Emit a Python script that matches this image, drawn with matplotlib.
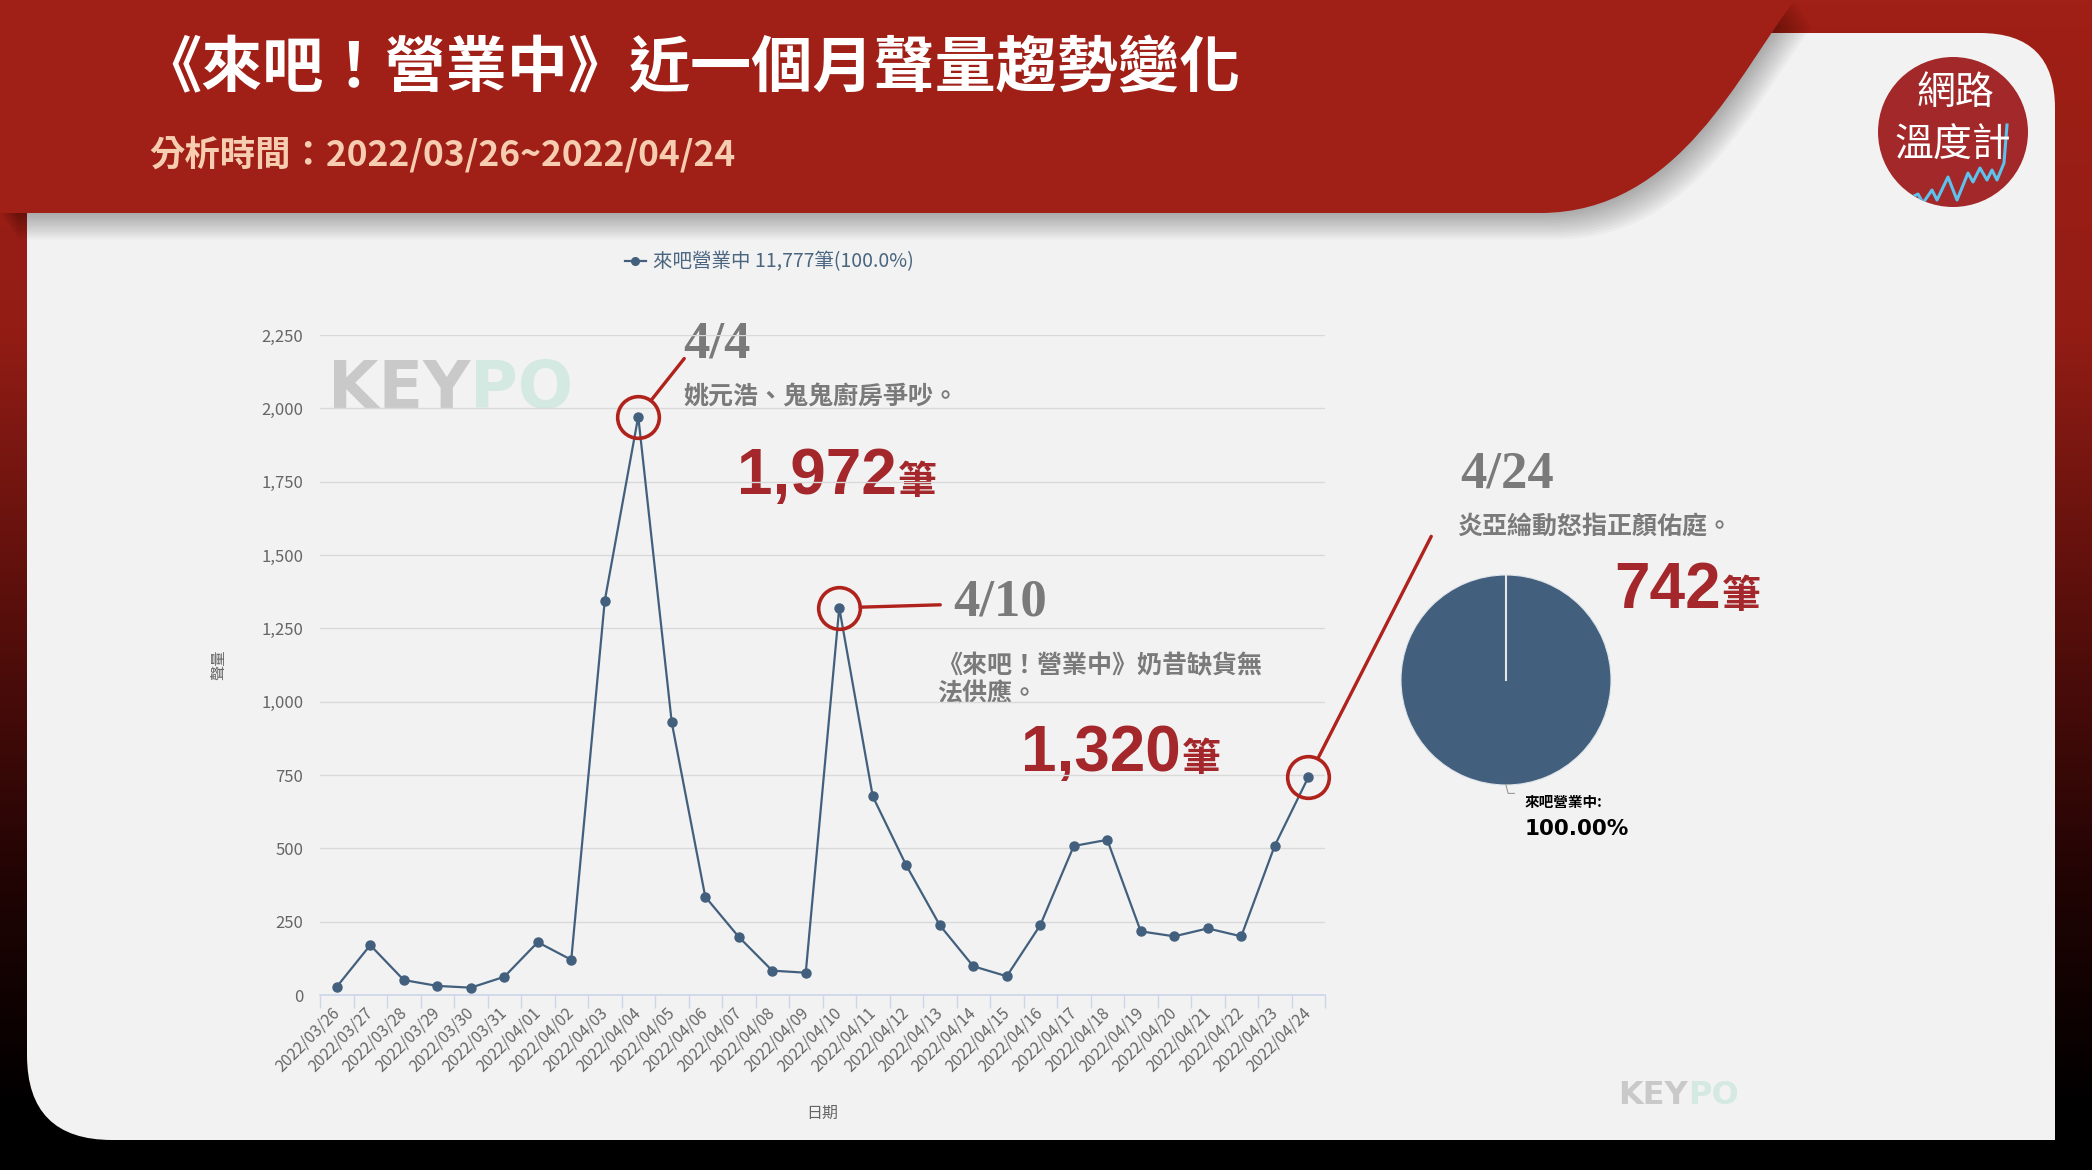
import numpy as np
import matplotlib
matplotlib.use("Agg")
import matplotlib.pyplot as plt
from matplotlib.path import Path
from matplotlib.patches import PathPatch, Circle
from matplotlib.colors import LinearSegmentedColormap
from matplotlib.lines import Line2D
from matplotlib.ticker import FuncFormatter

plt.rcParams['font.family'] = ['Noto Sans CJK TC', 'DejaVu Sans']

# ---- data ----
dates = ['2022/03/26', '2022/03/27', '2022/03/28', '2022/03/29', '2022/03/30',
         '2022/03/31', '2022/04/01', '2022/04/02', '2022/04/03', '2022/04/04',
         '2022/04/05', '2022/04/06', '2022/04/07', '2022/04/08', '2022/04/09',
         '2022/04/10', '2022/04/11', '2022/04/12', '2022/04/13', '2022/04/14',
         '2022/04/15', '2022/04/16', '2022/04/17', '2022/04/18', '2022/04/19',
         '2022/04/20', '2022/04/21', '2022/04/22', '2022/04/23', '2022/04/24']
volume = [28, 170, 51, 31, 25, 62, 180, 120, 1344, 1972,
          929, 335, 198, 83, 76, 1320, 677, 442, 238, 98,
          64, 238, 508, 529, 217, 200, 227, 200, 509, 742]
series_name = '來吧營業中'
total = 11777
y_ticks = list(range(0, 2251, 250))

peak_idx = [9, 15, 29]
peak_day = ['4/4', '4/10', '4/24']
peak_note = ['姚元浩、鬼鬼廚房爭吵。',
             '《來吧！營業中》奶昔缺貨無\n法供應。',
             '炎亞綸動怒指正顏佑庭。']

pie_values = [100.0]
pie_label = '來吧營業中:'

title = '《來吧！營業中》近一個月聲量趨勢變化'
subtitle = '分析時間：2022/03/26~2022/04/24'

# ---- styling ----
W, H = 2092, 1170
red = '#a01f16'
line_c = '#42607d'
ring_c = '#b0221c'
num_c = '#a3272b'
note_c = '#7a7a7a'
panel_c = '#f2f2f2'

fig = plt.figure(figsize=(W / 100, H / 100), dpi=100)


def fig_rect(l, t, r, b):
    return [l / W, 1 - b / H, (r - l) / W, (b - t) / H]


# background layer in pixel coordinates (y down)
bg = fig.add_axes([0, 0, 1, 1])
bg.set_xlim(0, W)
bg.set_ylim(H, 0)
bg.axis('off')

grad = LinearSegmentedColormap.from_list('bgr', [(0, red), (0.28, '#931d15'), (0.5, '#5e100c'),
                                                 (0.75, '#220404'), (0.95, '#000000'), (1, '#000000')])
bg.imshow(np.linspace(0, 1, 256).reshape(-1, 1), cmap=grad, aspect='auto',
          extent=[0, W, H, 0], zorder=0)
bg.set_xlim(0, W)
bg.set_ylim(H, 0)

# light panel: rounded top-right and bottom-left corners
px0, py0, px1, py1 = 27, 33, 2055, 1140
rr, rl = 75, 85
panel_path = Path([(px0, py0), (px1 - rr, py0), (px1, py0), (px1, py0 + rr), (px1, py1),
                   (px0 + rl, py1), (px0, py1), (px0, py1 - rl), (px0, py0)],
                  [Path.MOVETO, Path.LINETO, Path.CURVE3, Path.CURVE3, Path.LINETO,
                   Path.LINETO, Path.CURVE3, Path.CURVE3, Path.CLOSEPOLY])
bg.add_patch(PathPatch(panel_path, facecolor=panel_c, edgecolor='none', zorder=1))

# red banner with a soft shadow
banner_verts = [(0, 0), (1795, 0), (1740, 70), (1680, 213), (1540, 213), (0, 213), (0, 0)]
banner_codes = [Path.MOVETO, Path.LINETO, Path.CURVE4, Path.CURVE4, Path.CURVE4,
                Path.LINETO, Path.CLOSEPOLY]
for i in range(1, 12):
    sh = [(x + i * 1.6, y + i * 2.4) for x, y in banner_verts]
    bg.add_patch(PathPatch(Path(sh, banner_codes), facecolor='black', alpha=0.028,
                           edgecolor='none', zorder=2))
bg.add_patch(PathPatch(Path(banner_verts, banner_codes), facecolor=red, edgecolor='none', zorder=3))

bg.text(140, 70, title, color='white', fontsize=44, fontweight='bold', va='center', zorder=5)
bg.text(149, 154, subtitle, color='#f7cdb2', fontsize=25.5, fontweight='bold', va='center', zorder=5)

# logo
logo = Circle((1953, 132), 75, facecolor='#a3282a', edgecolor='none', zorder=4)
bg.add_patch(logo)
logo_wave_x = [1910, 1918, 1923, 1932, 1937, 1948, 1957, 1968, 1973, 1980, 1987, 1992, 1997, 2004, 2007]
logo_wave_y = [198, 194, 203, 190, 200, 177, 200, 173, 182, 168, 180, 170, 180, 163, 125]
wave, = bg.plot(logo_wave_x, logo_wave_y, color='#5bc3ee', lw=2.2, zorder=5)
wave.set_clip_path(logo)
bg.text(1955, 93, '網路', color='white', fontsize=28, ha='center', va='center', zorder=6)
bg.text(1953, 146, '溫度計', color='white', fontsize=28, ha='center', va='center', zorder=6)

renderer = fig.canvas.get_renderer()


def text_after(t, s, gap=2, **kw):
    bb = t.get_window_extent(renderer=renderer)
    x1 = bg.transData.inverted().transform((bb.x1, bb.y0))[0]
    return bg.text(x1 + gap, t.get_position()[1], s, **kw)


# KEYPO watermarks
def keypo(x, y, size):
    t = bg.text(x, y, 'KEY', color='#c9c9c9', fontsize=size, fontweight='bold',
                family='DejaVu Sans', va='baseline', zorder=2)
    text_after(t, 'PO', gap=0, color='#d3e9e2', fontsize=size, fontweight='bold',
               family='DejaVu Sans', va='baseline', zorder=2)


keypo(328, 408, 47)
keypo(1618, 1104, 23)

# ---- line chart ----
ax = fig.add_axes(fig_rect(320, 335, 1325, 995))
ax.set_facecolor('none')
x = np.arange(len(volume))
ax.plot(x, volume, color=line_c, lw=1.6, marker='o', ms=6.5, zorder=3)
ax.set_xlim(-0.5, len(volume) - 0.5)
ax.set_ylim(0, y_ticks[-1])
ax.set_yticks(y_ticks)
ax.yaxis.set_major_formatter(FuncFormatter(lambda v, p: f'{int(v):,}'))
ax.grid(axis='y', color='#d9d9d9', lw=1)
ax.set_axisbelow(True)
for s in ['top', 'right', 'left']:
    ax.spines[s].set_visible(False)
ax.spines['bottom'].set_color('#ccd6eb')
ax.spines['bottom'].set_linewidth(1.2)
ax.tick_params(axis='y', length=0, pad=12, labelsize=12, labelcolor='#666666')
ax.set_xticks(x)
ax.set_xticklabels(dates, rotation=45, ha='right', va='center', rotation_mode='anchor')
ax.set_xticks(np.arange(-0.5, len(volume), 1), minor=True)
ax.tick_params(axis='x', which='major', length=0, pad=11, labelsize=11.5, labelcolor='#666666')
ax.tick_params(axis='x', which='minor', length=9, color='#ccd6eb', width=1)
ax.set_ylabel('聲量', color='#666666', fontsize=11)
ax.yaxis.set_label_coords(-0.0925, 0.5)
ax.set_xlabel('日期', color='#666666', fontsize=11.5)
ax.xaxis.set_label_coords(0.5, -0.166)

# highlight rings and leader lines
peak_vals = [volume[i] for i in peak_idx]
ax.plot(peak_idx, peak_vals, ls='none', marker='o', ms=30, mfc='none', mec=ring_c, mew=2.6,
        zorder=4, clip_on=False)
leader_offsets = [(46, 58), (101, 3), (123, 241)]
for i, (dx, dy) in zip(peak_idx, leader_offsets):
    ax.annotate('', xy=(i, volume[i]), xytext=(dx, dy), textcoords='offset pixels',
                arrowprops=dict(arrowstyle='-', color=ring_c, lw=2.4, shrinkA=0, shrinkB=15))

fig.legend(handles=[Line2D([], [], color=line_c, lw=1.6, marker='o', ms=5.5)],
           labels=[f'{series_name} {total:,}筆(100.0%)'], loc='center',
           bbox_to_anchor=(769 / W, 1 - 262 / H), frameon=False, fontsize=14,
           handlelength=1.1, handletextpad=0.35, labelcolor='#4a6580')

# annotation texts (pixel positions on the background layer)
day_pos = [(683, 358), (953, 616), (1460, 487)]
note_pos = [(683, 398), (937, 680), (1457, 527)]
num_pos = [(737, 494), (1021, 771), (1614, 608)]
for k in range(3):
    bg.text(*day_pos[k], peak_day[k], color=note_c, fontsize=38, fontweight='bold',
            family='Liberation Serif', va='baseline', zorder=6)
    bg.text(*note_pos[k], peak_note[k], color=note_c, fontsize=18, fontweight='bold',
            va='center', linespacing=1.25, zorder=6)
    t = bg.text(*num_pos[k], f'{peak_vals[k]:,}', color=num_c, fontsize=46, fontweight='bold',
                family='Liberation Sans', va='baseline', zorder=6)
    text_after(t, '筆', gap=1, color=num_c, fontsize=28, fontweight='bold', va='baseline', zorder=6)

# ---- pie ----
pc, pr = (1506, 680), 105
ax_pie = fig.add_axes(fig_rect(pc[0] - pr, pc[1] - pr, pc[0] + pr, pc[1] + pr))
ax_pie.pie(pie_values, colors=[line_c], startangle=90, counterclock=False, radius=1,
           wedgeprops=dict(edgecolor='#dfe5ea', linewidth=0.8))
ax_pie.plot([0, 0], [0, 1], color='#e6e6e6', lw=1.5)
ax_pie.set_xlim(-1, 1)
ax_pie.set_ylim(-1, 1)
ax_pie.set_aspect('equal')
ax_pie.plot([0, 0.02, 0.08], [-1.0, -1.08, -1.08], color='#999999', lw=0.8, clip_on=False)
ax_pie.text(0.18, -1.16, pie_label, fontsize=10.5, fontweight='bold', color='black',
            va='center', ha='left', clip_on=False)
ax_pie.text(0.18, -1.42, f'{pie_values[0]:.2f}%', fontsize=15.5, fontweight='bold', color='black',
            family='DejaVu Sans', va='center', ha='left', clip_on=False)

fig.savefig('out.png', dpi=100)
